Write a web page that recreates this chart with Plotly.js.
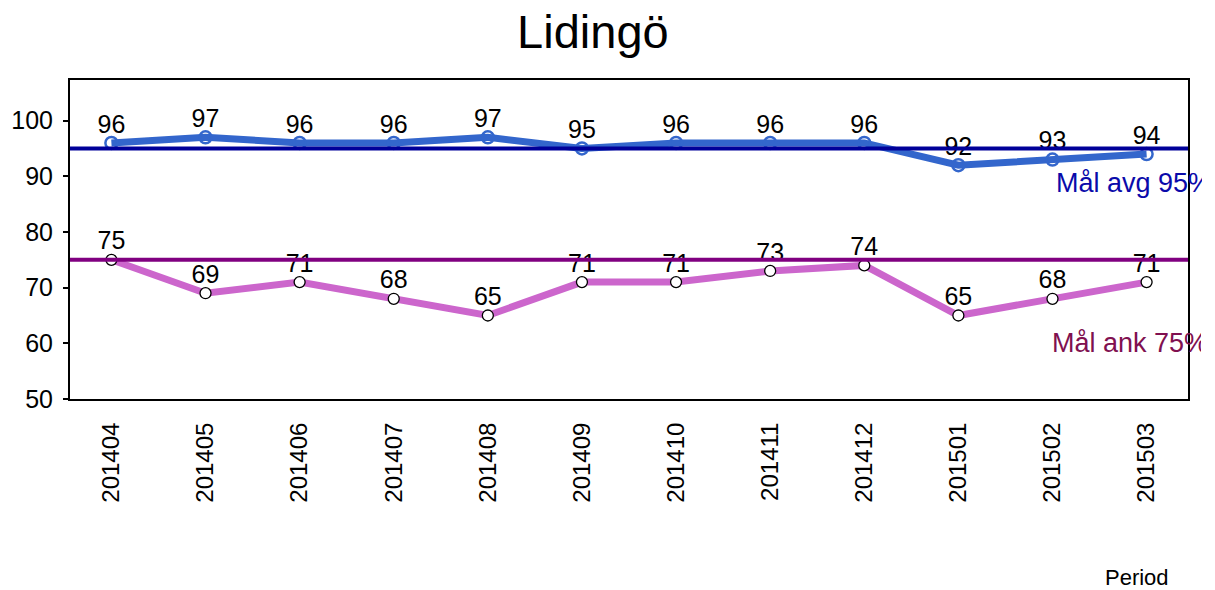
<!DOCTYPE html>
<html>
<head>
<meta charset="utf-8">
<script src="https://cdn.plot.ly/plotly-3.0.1.min.js"></script>
<style>html,body{margin:0;padding:0;background:#fff;}#chart{width:1215px;height:590px;}</style>
</head>
<body>
<div id="chart"></div>
<script>
const periods = ["201404","201405","201406","201407","201408","201409","201410","201411","201412","201501","201502","201503"];
const avgValues = [96,97,96,96,97,95,96,96,96,92,93,94];
const ankValues = [75,69,71,68,65,71,71,73,74,65,68,71];
const targetAvg = 95;
const targetAnk = 75;
const targetAvgLabel = "Mål avg 95%";
const targetAnkLabel = "Mål ank 75%";
const chartTitle = "Lidingö";
const xTitle = "Period";

const FONT = "Liberation Sans, Arial, sans-serif";

function series(y, lineColor, marker) {
  return {
    x: periods, y: y, type: 'scatter', mode: 'lines+markers',
    line: {color: lineColor, width: 7}, marker: marker,
    cliponaxis: false, hoverinfo: 'x+y', showlegend: false
  };
}
function labels(y) {
  return {
    x: periods, y: y, type: 'scatter', mode: 'markers+text',
    marker: {size: 5, opacity: 0},
    text: y.map(String), textposition: 'top center',
    textfont: {family: FONT, size: 25, color: '#000'},
    cliponaxis: false, hoverinfo: 'skip', showlegend: false
  };
}

const traces = [
  series(avgValues, '#3366CC', {symbol: 'circle-open', size: 12, color: '#3366CC', line: {width: 2.5, color: '#3366CC'}}),
  series(ankValues, '#CC66CC', {symbol: 'circle', size: 11, color: '#fff', line: {width: 1.3, color: '#000'}}),
  labels(avgValues),
  labels(ankValues)
];

const layout = {
  width: 1215, height: 590,
  margin: {l: 70, r: 27, t: 80, b: 191, pad: 0},
  paper_bgcolor: '#fff', plot_bgcolor: '#fff',
  font: {family: FONT, color: '#000', size: 24},
  title: {text: chartTitle, font: {family: FONT, size: 47, color: '#000'},
          x: 0.488, xanchor: 'center', y: 0.947, yanchor: 'middle'},
  xaxis: {
    type: 'category', range: [-0.44, 11.44],
    showline: true, mirror: true, linecolor: '#000', linewidth: 2,
    showgrid: false, zeroline: false, ticks: '', tickangle: -90,
    tickfont: {family: FONT, size: 24, color: '#000'}, ticklabelstandoff: 12
  },
  yaxis: {
    range: [50, 107.3], tickvals: [50,60,70,80,90,100],
    showline: true, mirror: true, linecolor: '#000', linewidth: 2,
    showgrid: false, zeroline: false, ticks: 'outside', ticklen: 5, tickwidth: 2, tickcolor: '#000',
    tickfont: {family: FONT, size: 25, color: '#000'}, ticklabelstandoff: 5
  },
  shapes: [
    {type: 'line', xref: 'paper', x0: 0, x1: 1, yref: 'y', y0: targetAvg, y1: targetAvg,
     line: {color: '#000099', width: 4}, layer: 'above'},
    {type: 'line', xref: 'paper', x0: 0, x1: 1, yref: 'y', y0: targetAnk, y1: targetAnk,
     line: {color: '#800080', width: 4}, layer: 'above'}
  ],
  annotations: [
    {text: targetAvgLabel, xref: 'paper', yref: 'paper', x: 0.880, y: 0.677,
     xanchor: 'left', yanchor: 'middle', align: 'left', width: 146, showarrow: false,
     font: {family: FONT, size: 27, color: '#0A0AAA'}},
    {text: targetAnkLabel, xref: 'paper', yref: 'paper', x: 0.877, y: 0.1755,
     xanchor: 'left', yanchor: 'middle', align: 'left', width: 149, showarrow: false,
     font: {family: FONT, size: 27, color: '#801050'}},
    {text: xTitle, xref: 'paper', yref: 'paper', x: 0.954, y: -0.561,
     xanchor: 'center', yanchor: 'middle', showarrow: false,
     font: {family: FONT, size: 22, color: '#000'}}
  ]
};

Plotly.newPlot('chart', traces, layout, {displayModeBar: false, staticPlot: true});
</script>
</body>
</html>
